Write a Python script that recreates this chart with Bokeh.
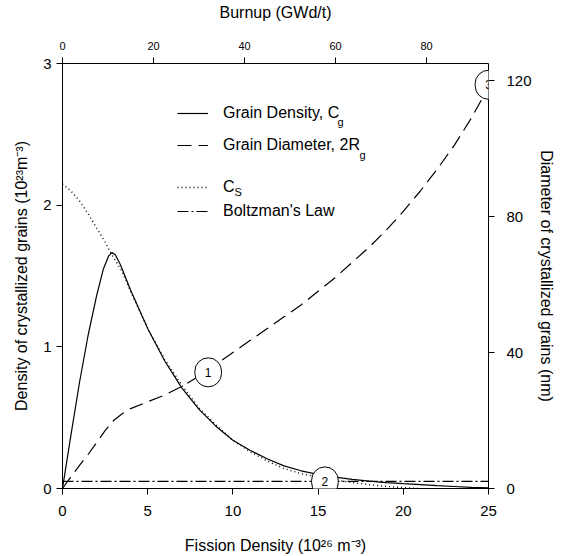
from bokeh.plotting import figure
from bokeh.models import Range1d, LinearAxis, Legend, LegendItem, Label, FixedTicker
from bokeh.embed import file_html
from bokeh.resources import INLINE

# ---- data ----
cg_x = [0, 0.5, 1.0, 1.5, 2.0, 2.4, 2.7, 2.9, 3.1, 3.4, 4, 5, 6, 7, 8, 9, 10, 11, 12,
        13, 14, 15, 16, 17, 18, 19, 20, 21, 22, 23, 24, 25]
cg_y = [0, 0.38, 0.75, 1.08, 1.36, 1.55, 1.64, 1.665, 1.65, 1.58, 1.40, 1.13, 0.90, 0.71,
        0.56, 0.44, 0.34, 0.27, 0.21, 0.16, 0.125, 0.10, 0.08, 0.065, 0.052, 0.042,
        0.034, 0.027, 0.020, 0.014, 0.008, 0.004]

cs_x = [0, 0.5, 1.0, 1.5, 2.0, 2.5, 2.8, 3.0, 3.5, 4, 5, 6, 7, 8, 9, 10, 11, 12, 13,
        14, 15, 16, 17, 18, 19, 20, 21]
cs_y = [2.15, 2.10, 2.03, 1.94, 1.84, 1.74, 1.67, 1.63, 1.53, 1.39, 1.13, 0.91, 0.73,
        0.57, 0.45, 0.34, 0.26, 0.195, 0.14, 0.105, 0.08, 0.06, 0.042, 0.027, 0.015,
        0.006, 0.0]

dia_x = [0, 0.5, 1, 1.5, 2, 2.5, 3, 3.5, 4, 5, 6, 7, 8, 9, 10, 11, 12, 13, 14, 15, 16,
         17, 18, 19, 20, 21, 22, 23, 24, 25]
dia_nm = [0, 3.5, 6.8, 10, 13.5, 17, 20, 22, 23.5, 25.5, 27.5, 30, 33, 36.5, 40, 43.5,
          47, 50.5, 54, 58, 62, 66.5, 71, 76, 81.5, 87.5, 94, 101, 109, 118]

boltz_x = [0, 25]
boltz_y = [0.05, 0.05]

marker_x = [8.55, 15.4, 25.0]
marker_y = [0.82, 0.05, 2.85]
marker_text = ["1", "2", "3"]

bottom_ticks = [0, 5, 10, 15, 20, 25]
left_ticks = [0, 1, 2, 3]
right_ticks = [0, 40, 80, 120]
top_ticks = [0, 20, 40, 60, 80]

FONT = "Liberation Sans"

p = figure(width=563, height=556, x_range=Range1d(0, 25), y_range=Range1d(0, 3),
           output_backend="svg", toolbar_location=None,
           min_border_left=62, min_border_right=75, min_border_top=62, min_border_bottom=68)
p.extra_y_ranges = {"dia": Range1d(0, 125)}
p.extra_x_ranges = {"burn": Range1d(0, 93.6)}
p.grid.visible = False
p.outline_line_color = None
p.background_fill_color = "white"


def style(ax, size="15px"):
    ax.axis_line_color = "black"
    ax.major_tick_line_color = "black"
    ax.minor_tick_line_color = None
    ax.major_tick_in = 0
    ax.major_tick_out = 6
    ax.major_label_text_font = FONT
    ax.major_label_text_font_size = size
    ax.major_label_text_color = "black"
    ax.axis_label_text_font = FONT
    ax.axis_label_text_font_size = "16px"
    ax.axis_label_text_font_style = "normal"
    ax.axis_label_text_color = "black"


xa = p.xaxis[0]
xa.ticker = FixedTicker(ticks=bottom_ticks)
xa.axis_label = "Fission Density (10²⁶ m⁻³)"
style(xa)
xa.major_label_standoff = 11
xa.axis_label_standoff = 18

ya = p.yaxis[0]
ya.ticker = FixedTicker(ticks=left_ticks)
ya.axis_label = "Density of crystallized grains (10²³m⁻³)"
style(ya)
ya.major_label_standoff = 5
ya.axis_label_standoff = 10

ra = LinearAxis(y_range_name="dia", ticker=FixedTicker(ticks=right_ticks),
                axis_label="Diameter of crystallized grains (nm)")
style(ra)
ra.major_label_standoff = 12
ra.axis_label_standoff = 3
p.add_layout(ra, "right")

ta = LinearAxis(x_range_name="burn", ticker=FixedTicker(ticks=top_ticks),
                axis_label="Burnup (GWd/t)")
style(ta, "11px")
ta.major_label_standoff = 8
ta.axis_label_standoff = 18
p.add_layout(ta, "above")

r_cg = p.line(cg_x, cg_y, line_color="black", line_width=1.2)
r_dia = p.line(dia_x, dia_nm, y_range_name="dia", line_color="black", line_width=1.2,
               line_dash="14 7")
r_cs = p.line(cs_x, cs_y, line_color="black", line_width=1.4, line_dash="1 3")
r_bz = p.line(boltz_x, boltz_y, line_color="black", line_width=1.2, line_dash="11 3 2 3")

for mx, my, mt in zip(marker_x, marker_y, marker_text):
    p.add_layout(Label(x=mx, y=my, text=mt, text_align="center", text_baseline="middle",
                       text_font=FONT, text_font_size="12px", text_color="black",
                       background_fill_color="white", border_line_color="black",
                       border_line_width=1, level="overlay",
                       padding=dict(left=10, right=10, top=10, bottom=10),
                       border_radius=14))

common = dict(orientation="vertical", padding=0, margin=0, glyph_width=31,
              glyph_height=20, label_height=20, label_standoff=15,
              border_line_color=None, background_fill_alpha=0,
              label_text_font=FONT, label_text_font_size="16px",
              label_text_color="black")
leg_a = Legend(items=[LegendItem(label="Grain Density, C", renderers=[r_cg]),
                      LegendItem(label="Grain Diameter, 2R", renderers=[r_dia])],
               location=(115, 333), spacing=12, **common)
leg_b = Legend(items=[LegendItem(label="C", renderers=[r_cs]),
                      LegendItem(label="Boltzman's Law", renderers=[r_bz])],
               location=(115, 267), spacing=4, **common)
p.add_layout(leg_a, "center")
p.add_layout(leg_b, "center")

subs = [("g", 275, 367), ("g", 297, 334), ("S", 172, 297)]
for t, sx, sy in subs:
    p.add_layout(Label(x=sx, y=sy, x_units="screen", y_units="screen", text=t,
                       text_font=FONT, text_font_size="11px", text_color="black",
                       text_baseline="middle", text_align="left"))

open("out.html", "w").write(file_html(p, INLINE))
